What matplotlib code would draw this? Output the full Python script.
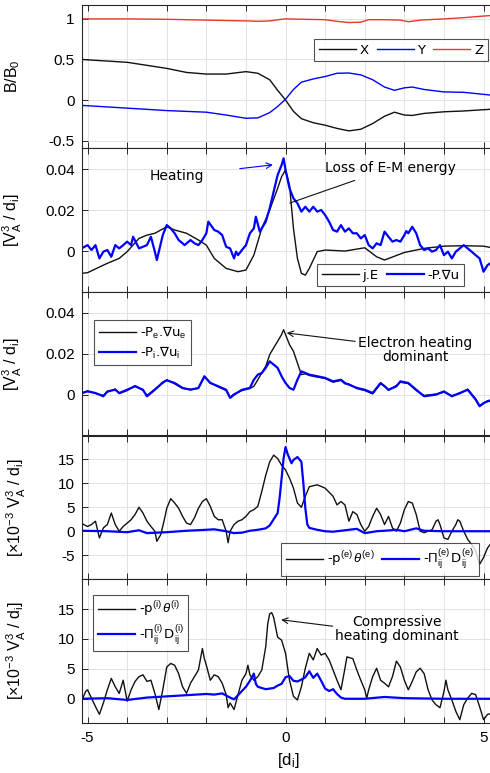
import matplotlib
matplotlib.use("Agg")
import matplotlib.pyplot as plt
from matplotlib.ticker import FixedLocator, FuncFormatter
import numpy as np

plt.rcParams["font.family"] = ["Liberation Sans", "DejaVu Sans"]
plt.rcParams["mathtext.fontset"] = "custom"
plt.rcParams["mathtext.rm"] = "Liberation Sans"
plt.rcParams["mathtext.it"] = "Liberation Sans:italic"
plt.rcParams["mathtext.bf"] = "Liberation Sans:bold"
plt.rcParams["axes.unicode_minus"] = False

# ---------------- panel 1: magnetic field components ----------------
x_b = [-5.15, -4, -3, -2.5, -2, -1.5, -1, -0.7, -0.4, -0.2, 0, 0.2, 0.4, 0.7, 1.0,
       1.3, 1.6, 1.9, 2.2, 2.5, 2.75, 3.0, 3.2, 3.5, 4, 4.5, 5.3]
bx = [0.50, 0.465, 0.39, 0.34, 0.32, 0.32, 0.35, 0.33, 0.25, 0.12, 0.0, -0.14, -0.23,
      -0.28, -0.31, -0.35, -0.38, -0.36, -0.29, -0.20, -0.15, -0.185, -0.19, -0.165,
      -0.145, -0.135, -0.11]
by = [-0.066, -0.10, -0.13, -0.14, -0.15, -0.185, -0.225, -0.22, -0.155, -0.08, 0.01,
      0.13, 0.22, 0.26, 0.29, 0.33, 0.333, 0.31, 0.25, 0.16, 0.12, 0.15, 0.16, 0.13,
      0.10, 0.095, 0.055]
x_bz = [-5.15, -4, -3, -2, -1, -0.7, -0.4, -0.1, 0, 0.5, 1.0, 1.3, 1.6, 1.9, 2.1, 2.5,
        2.9, 3.1, 3.4, 4, 4.5, 5, 5.3]
bz = [1.0, 1.0, 0.995, 0.985, 0.975, 0.97, 0.975, 0.995, 1.0, 0.995, 0.99, 0.97, 0.955,
      0.96, 0.99, 0.99, 0.985, 0.965, 0.985, 1.0, 1.015, 1.035, 1.045]

# ---------------- panel 2: j.E and -P.grad u  (units of 1e-3) ----------------
x_je = [-5.15, -5, -4.5, -4.2, -4, -3.7, -3.5, -3.3, -3, -2.8, -2.5, -2.2, -2.0, -1.8,
        -1.5, -1.2, -1.0, -0.8, -0.6, -0.4, -0.2, -0.1, 0, 0.1, 0.2, 0.3, 0.4, 0.5,
        0.6, 0.8, 1.0, 1.5, 2, 2.3, 2.5, 3, 3.5, 4, 4.5, 5, 5.3]
je = [-10.9, -10.6, -6.0, -3.6, -0.3, 6.2, 7.8, 8.7, 11.9, 10.3, 8.7, 5.4, 2.9, -3.6,
      -8.5, -10.1, -9.3, -2.0, 11.1, 20.1, 30.7, 36.4, 39.7, 32.3, 11.1, -3.6, -10.9,
      -11.8, -8.5, -0.3, 0.5, 0.0, 1.6, -2.8, -4.4, -0.7, 1.3, 2.4, 2.6, 2.4, 1.3]
x_pu = [-5.15, -5.0, -4.9, -4.8, -4.7, -4.6, -4.5, -4.4, -4.3, -4.2, -4.1, -4.0, -3.9,
        -3.85, -3.7, -3.6, -3.5, -3.4, -3.3, -3.25, -3.1, -3.0, -2.9, -2.8, -2.7, -2.6,
        -2.55, -2.4, -2.3, -2.2, -2.1, -2.0, -1.95, -1.8, -1.7, -1.6, -1.5, -1.4, -1.3,
        -1.25, -1.2, -1.1, -1.0, -0.9, -0.8, -0.75, -0.65, -0.6, -0.5, -0.4, -0.3, -0.2,
        -0.1, -0.05, 0, 0.1, 0.2, 0.3, 0.4, 0.5, 0.6, 0.7, 0.8, 0.9, 1.0, 1.1, 1.2, 1.3,
        1.4, 1.5, 1.6, 1.7, 1.8, 1.9, 2.0, 2.1, 2.2, 2.3, 2.4, 2.5, 2.6, 2.7, 2.8, 2.9,
        3.0, 3.05, 3.1, 3.2, 3.3, 3.4, 3.5, 3.6, 3.7, 3.8, 3.9, 4.0, 4.1, 4.2, 4.3, 4.4,
        4.5, 4.6, 4.7, 4.8, 4.9, 5.0, 5.1, 5.3]
pu = [1.3, 2.9, 0.5, 2.9, -3.6, -0.3, 0.5, -2.8, 2.9, 1.3, 2.9, 4.6, 2.9, 7.0, 1.3, 2.1,
      2.9, 7.0, -0.3, -4.4, 7.8, 12.7, 11.1, 8.7, 5.4, 3.8, 2.9, 5.4, 3.8, 2.9, 5.4, 8.7,
      14.4, 10.3, 9.5, 7.8, 2.1, 1.3, -3.6, -0.3, -2.0, 0.5, 2.9, 8.7, 11.1, 16.8, 9.5,
      11.1, 14.4, 20.9, 29.1, 37.2, 42.1, 45.4, 39.7, 30.7, 25.8, 23.4, 19.3, 21.7, 19.3,
      21.7, 19.3, 20.1, 17.6, 14.4, 10.3, 9.5, 12.7, 9.5, 11.1, 8.7, 8.7, 6.2, 7.8, 2.9,
      1.3, 3.8, 2.9, 9.5, 7.0, 4.6, 5.4, 4.6, 7.8, 9.8, 8.7, 11.9, 8.7, 2.9, 0.5, 1.3,
      -0.3, 0.5, 2.9, -2.0, -0.3, -3.6, -0.3, 1.3, 2.9, 1.3, -0.3, -2.0, -3.6, -10.1,
      -6.9, -4.4]

# ---------------- panel 3: electron / ion pressure work (units of 1e-3) ----------------
x_pw = [-5.15, -5.0, -4.8, -4.6, -4.5, -4.3, -4.2, -4.0, -3.8, -3.6, -3.5, -3.3, -3.1,
        -3.0, -2.8, -2.6, -2.4, -2.2, -2.05, -1.9, -1.7, -1.5, -1.4, -1.3, -1.1, -0.9,
        -0.8, -0.7, -0.6, -0.5, -0.4, -0.3, -0.2, -0.1, -0.05, 0, 0.1, 0.2, 0.3, 0.4,
        0.5, 0.6, 0.8, 1.0, 1.2, 1.4, 1.5, 1.6, 1.8, 2.0, 2.2, 2.4, 2.5, 2.6, 2.8, 2.9,
        3.1, 3.3, 3.5, 3.8, 4.0, 4.2, 4.4, 4.6, 4.8, 4.9, 5.0, 5.1, 5.3]
pe_work = [0.4, 1.9, 0.6, -0.4, 1.2, 2.8, 0.5, 2.0, 4.4, 2.1, -0.4, 2.7, 5.6, 7.3, 5.3,
           3.0, 2.6, 3.0, 8.6, 5.9, 3.8, 2.0, -1.2, 0.3, 2.0, 3.0, 4.1, 7.3, 10.6, 13.9,
           19.6, 22.9, 26.1, 29.4, 31.8, 29.4, 24.5, 21.2, 15.5, 9.8, 10.2, 9.4, 8.6,
           7.9, 6.1, 7.0, 5.3, 5.2, 3.0, 2.0, 0.4, 5.3, 4.4, 2.1, 4.5, 6.1, 5.4, 2.0,
           -0.4, 0.3, 1.2, -0.5, 0.5, 2.7, -2.0, -5.3, -4.4, -3.0, -2.0]
pi_work = [0.8, 1.6, 0.8, -0.8, 1.6, 2.4, 0.8, 2.4, 4.1, 2.4, -0.8, 2.4, 6.0, 7.0, 5.7,
           3.3, 2.4, 3.3, 9.0, 5.7, 4.1, 2.4, -1.6, 0.0, 2.4, 3.3, 7.3, 9.8, 10.6, 13.1,
           16.3, 14.7, 13.1, 9.0, 7.3, 5.7, 3.3, 2.4, 7.3, 11.4, 10.6, 9.8, 9.0, 8.2,
           6.5, 7.3, 5.7, 4.9, 3.3, 2.4, 0.8, 5.7, 4.1, 2.4, 4.1, 6.5, 5.7, 2.4, -0.8,
           0.0, 1.6, -0.8, 0.8, 2.4, -2.4, -5.7, -4.1, -3.3, -2.4]

# ---------------- panel 4: electron pressure-strain terms (units of 1e-3) ----------------
x_e = [-5.15, -5.1, -5.0, -4.9, -4.8, -4.7, -4.6, -4.5, -4.4, -4.3, -4.2, -4.1, -4.0,
       -3.9, -3.8, -3.7, -3.6, -3.5, -3.4, -3.3, -3.25, -3.15, -3.05, -3.0, -2.9, -2.8,
       -2.7, -2.6, -2.5, -2.4, -2.3, -2.2, -2.1, -2.0, -1.9, -1.8, -1.7, -1.6, -1.5,
       -1.45, -1.4, -1.3, -1.2, -1.1, -1.0, -0.9, -0.8, -0.7, -0.6, -0.5, -0.4, -0.3,
       -0.2, -0.1, 0, 0.1, 0.2, 0.3, 0.4, 0.5, 0.6, 0.8, 1.0, 1.2, 1.3, 1.4, 1.5, 1.6,
       1.7, 1.8, 1.9, 2.0, 2.1, 2.2, 2.3, 2.4, 2.5, 2.6, 2.7, 2.8, 2.9, 3.0, 3.1, 3.2,
       3.3, 3.4, 3.5, 3.6, 3.7, 3.8, 3.85, 3.9, 4.0, 4.1, 4.2, 4.3, 4.35, 4.4, 4.5, 4.6,
       4.7, 4.8, 4.9, 5.0, 5.1, 5.3]
ptheta_e = [1.7, 1.4, 1.0, 1.4, 2.1, -1.4, 0.7, 1.4, 3.8, 1.4, 0.0, 1.0, 1.7, 2.4, 3.5,
            5.0, 3.8, 2.1, 1.0, 0.0, -2.1, -0.7, 2.8, 4.8, 6.8, 5.9, 4.8, 3.1, 1.7, 1.4,
            2.8, 4.8, 6.2, 6.8, 5.2, 3.1, 2.4, 2.4, 0.0, -2.4, 0.0, 1.4, 2.1, 2.4, 3.1,
            4.1, 4.5, 5.2, 8.3, 11.7, 14.5, 15.9, 15.2, 13.8, 12.8, 11.1, 9.0, 5.9, 5.0,
            7.3, 9.3, 9.7, 9.0, 7.3, 5.5, 6.2, 5.5, 2.1, 4.1, 3.5, 1.4, 0.0, 1.0, 3.1,
            4.8, 3.5, 1.4, 3.1, 0.7, 0.0, 1.7, 4.5, 6.2, 5.9, 3.5, 0.0, -0.3, 0.0, 0.3,
            2.1, 2.4, 1.4, -1.4, -1.7, 0.0, 1.4, 2.4, 2.1, 0.0, -1.7, -2.8, -4.1, -6.9,
            -5.5, -3.5, -1.4]
x_pie = [-5.15, -4.5, -4.0, -3.7, -3.5, -3.0, -2.5, -2.0, -1.8, -1.5, -1.3, -1.1, -0.9,
         -0.7, -0.5, -0.4, -0.3, -0.2, -0.15, -0.1, -0.05, 0, 0.05, 0.1, 0.15, 0.2, 0.3,
         0.4, 0.45, 0.5, 0.55, 0.6, 0.8, 1.0, 1.2, 1.5, 1.8, 2.0, 2.3, 2.5, 2.8, 3.0,
         3.3, 3.5, 4.0, 4.5, 5.3]
pid_e = [0.1, 0.0, -0.2, 0.2, -0.4, -0.2, 0.1, 0.3, 0.4, 0.0, -0.4, -0.3, 0.1, 0.3, 0.6,
         1.2, 2.5, 3.8, 6.9, 11.0, 15.2, 17.6, 16.2, 15.2, 14.2, 14.9, 15.5, 14.5, 10.0,
         4.8, 1.4, 0.7, 0.3, 0.0, -0.1, 0.2, 0.5, -0.4, 0.0, 0.1, 0.3, 0.0, 0.6, 0.1,
         0.0, 0.0, 0.0]

# ---------------- panel 5: ion pressure-strain terms (units of 1e-3) ----------------
x_i = [-5.15, -5.05, -5.0, -4.9, -4.8, -4.7, -4.6, -4.5, -4.4, -4.3, -4.2, -4.1, -4.0,
       -3.9, -3.8, -3.7, -3.6, -3.5, -3.4, -3.3, -3.2, -3.1, -3.0, -2.9, -2.8, -2.7,
       -2.6, -2.5, -2.4, -2.3, -2.2, -2.1, -2.05, -2.0, -1.9, -1.8, -1.7, -1.6, -1.5,
       -1.45, -1.4, -1.3, -1.2, -1.1, -1.0, -0.95, -0.9, -0.8, -0.7, -0.6, -0.5, -0.45,
       -0.4, -0.35, -0.3, -0.2, -0.1, 0, 0.05, 0.1, 0.2, 0.3, 0.4, 0.5, 0.6, 0.7, 0.8,
       0.9, 1.0, 1.1, 1.2, 1.3, 1.4, 1.5, 1.55, 1.7, 1.8, 1.9, 2.0, 2.05, 2.1, 2.2, 2.3,
       2.4, 2.5, 2.6, 2.7, 2.8, 2.9, 3.0, 3.1, 3.2, 3.3, 3.4, 3.5, 3.6, 3.7, 3.8, 3.9,
       4.0, 4.05, 4.1, 4.2, 4.3, 4.4, 4.5, 4.6, 4.7, 4.8, 4.9, 5.0, 5.1, 5.3]
ptheta_i = [-0.4, 1.2, 1.5, 0.1, -1.3, -2.6, -0.7, 1.5, 3.4, 2.0, 0.9, 3.1, -0.4, 1.5,
            2.9, 3.7, 4.0, 2.9, 3.1, 0.9, -1.8, 1.5, 5.3, 5.9, 5.6, 4.2, 2.0, 0.9, 2.6,
            3.7, 4.8, 8.4, 6.7, 5.6, 3.1, 4.0, 3.7, 2.6, 0.7, -1.5, -0.7, -1.8, 0.7, 3.1,
            4.2, 5.6, 4.0, 3.1, 3.7, 4.8, 8.7, 12.5, 14.2, 14.4, 13.6, 10.3, 9.8, 7.6,
            5.3, 3.1, 0.4, -0.2, 2.0, 5.1, 7.6, 6.5, 8.4, 7.3, 7.6, 6.5, 4.8, 3.1, 1.5,
            5.1, 7.0, 6.7, 4.8, 3.1, 1.5, 0.1, 1.5, 3.7, 5.1, 3.1, 2.6, 2.0, 3.7, 6.3,
            5.3, 3.1, 1.5, 2.9, 4.5, 5.1, 4.2, 1.5, -0.2, -1.0, -1.5, 1.2, 3.1, 1.5,
            -0.2, -2.1, -3.5, -1.0, 0.1, 0.9, 0.7, -1.3, -3.5, -2.6, -2.4]
x_pii = [-5.15, -4.5, -4.0, -3.5, -3.0, -2.5, -2.0, -1.8, -1.6, -1.4, -1.3, -1.2, -1.0,
         -0.9, -0.8, -0.75, -0.7, -0.5, -0.3, -0.2, -0.1, 0, 0.1, 0.2, 0.3, 0.4, 0.5,
         0.6, 0.7, 0.8, 0.9, 1.0, 1.1, 1.2, 1.3, 1.4, 1.5, 2.0, 2.5, 3.0, 4.0, 5.3]
pid_i = [0.0, 0.1, -0.2, 0.2, 0.4, 0.6, 0.8, 0.7, 0.9, 0.2, -0.1, 0.6, 2.0, 3.0, 4.2,
         2.5, 2.0, 1.6, 1.8, 2.2, 2.5, 3.6, 3.8, 3.0, 2.9, 3.2, 3.6, 4.6, 3.5, 4.2, 3.0,
         1.7, 1.3, 1.6, 0.8, 0.2, 0.0, 0.0, 0.3, 0.1, 0.0, 0.0]

BLUE = "#0000ff"
BLACK = "#111111"
RED = "#e5392c"
EDGE = "#262626"

W, H = 490, 773
fig = plt.figure(figsize=(W / 100, H / 100), dpi=100)

top0, ph = 4.7, 143.6
left_px = 81.6
xlim = (-5.15, 5.3)
width_px = (xlim[1] - xlim[0]) * 39.6
axes = []
for k in range(5):
    bottom = 1 - (top0 + ph * (k + 1)) / H
    ax = fig.add_axes([left_px / W, bottom, width_px / W, ph / H])
    axes.append(ax)

def style(ax, yticks, ylim, last=False):
    ax.set_xlim(*xlim)
    ax.set_ylim(*ylim)
    ax.xaxis.set_major_locator(FixedLocator(np.arange(-5, 6, 1)))
    ax.xaxis.set_major_formatter(FuncFormatter(
        lambda v, p: f"{v:g}" if abs(v) in (0, 5) else ""))
    ax.yaxis.set_major_locator(FixedLocator(yticks))
    ax.yaxis.set_major_formatter(FuncFormatter(lambda v, p: f"{v:g}"))
    ax.tick_params(axis="x", direction="in", top=True, bottom=True, length=4,
                   width=0.7, color=EDGE, labelbottom=last, labelsize=11, pad=6)
    ax.tick_params(axis="y", direction="in", left=True, right=False, length=4,
                   width=0.7, color=EDGE, labelsize=11, pad=5)
    ax.grid(True, color="#e3e3e3", linewidth=0.7)
    ax.set_axisbelow(True)
    for s in ax.spines.values():
        s.set_color(EDGE)
        s.set_linewidth(0.8)

def legend(ax, anchor, ncol=1):
    lg = ax.legend(loc="upper left", bbox_to_anchor=anchor, ncol=ncol,
                   frameon=True, fancybox=False, borderaxespad=0,
                   handlelength=2.8, handletextpad=0.3, columnspacing=0.6,
                   borderpad=0.35, labelspacing=0.3,
                   prop={"family": ["DejaVu Sans"], "size": 9.5})
    lg.get_frame().set_edgecolor(EDGE)
    lg.get_frame().set_linewidth(0.8)
    return lg

YLAB_X = -0.138
YLAB_SIZE = 11.5

# panel 1
ax = axes[0]
ax.plot(x_b, bx, color=BLACK, lw=1.0, label="X")
ax.plot(x_b, by, color=BLUE, lw=1.0, label="Y")
ax.plot(x_bz, bz, color=RED, lw=1.0, label="Z")
style(ax, [-0.5, 0, 0.5, 1], (-0.595, 1.175))
legend(ax, (0.5616, 0.761), ncol=3)
ax.set_ylabel(r"B/B$_\mathrm{0}$", fontsize=YLAB_SIZE)
ax.yaxis.set_label_coords(-0.145, 0.5)

ann_font = {"family": ["DejaVu Sans"], "size": 10}

# panel 2
ax = axes[1]
ax.plot(x_je, np.array(je) / 1000, color=BLACK, lw=1.0, label="j.E")
ax.plot(x_pu, np.array(pu) / 1000, color=BLUE, lw=1.6, label="-P.∇u")
style(ax, [0, 0.02, 0.04], (-0.02, 0.0503))
legend(ax, (0.569, 0.194), ncol=2)
ax.set_ylabel(r"[V$_\mathrm{A}^\mathrm{3}$ / d$_\mathrm{i}$]", fontsize=YLAB_SIZE)
ax.yaxis.set_label_coords(YLAB_X, 0.5)
ax.annotate("Heating", xy=(-0.32, 0.0422), xytext=(-2.75, 0.0368),
            ha="center", va="center", **ann_font,
            arrowprops=dict(arrowstyle="->", color=BLUE, lw=0.8,
                            shrinkA=24, shrinkB=0))
ax.annotate("Loss of E-M energy", xy=(0.11, 0.0235), xytext=(1.0, 0.0407),
            ha="left", va="center", **ann_font,
            arrowprops=dict(arrowstyle="-", color=BLACK, lw=0.8,
                            shrinkA=6, shrinkB=0))

# panel 3
ax = axes[2]
ax.plot(x_pw, np.array(pe_work) / 1000, color=BLACK, lw=1.0,
        label=r"-P$_\mathrm{e}$.∇u$_\mathrm{e}$")
ax.plot(x_pw, np.array(pi_work) / 1000, color=BLUE, lw=1.6,
        label=r"-P$_\mathrm{i}$.∇u$_\mathrm{i}$")
style(ax, [0, 0.02, 0.04], (-0.02, 0.0503))
legend(ax, (0.030, 0.804))
ax.set_ylabel(r"[V$_\mathrm{A}^\mathrm{3}$ / d$_\mathrm{i}$]", fontsize=YLAB_SIZE)
ax.yaxis.set_label_coords(YLAB_X, 0.5)
ax.annotate("Electron heating\ndominant", xy=(0.03, 0.0302), xytext=(3.27, 0.0218),
            ha="center", va="center", linespacing=1.0, **ann_font,
            arrowprops=dict(arrowstyle="->", color=BLACK, lw=0.8,
                            shrinkA=0, shrinkB=0, relpos=(0.0, 0.8)))

# panel 4
ax = axes[3]
ax.plot(x_e, ptheta_e, color=BLACK, lw=1.0,
        label=r"-p$^\mathrm{(e)}\,\theta^\mathrm{(e)}$")
ax.plot(x_pie, pid_e, color=BLUE, lw=1.6,
        label=r"-$\Pi_\mathrm{ij}^\mathrm{(e)}\,$D$_\mathrm{ij}^\mathrm{(e)}$")
style(ax, [-5, 0, 5, 10, 15], (-10, 20))
legend(ax, (0.482, 0.251), ncol=2)
ax.set_ylabel(r"[$\times$10$^\mathrm{-3}$ V$_\mathrm{A}^\mathrm{3}$ / d$_\mathrm{i}$]",
              fontsize=YLAB_SIZE)
ax.yaxis.set_label_coords(-0.13, 0.5)

# panel 5
ax = axes[4]
ax.plot(x_i, ptheta_i, color=BLACK, lw=1.0,
        label=r"-p$^\mathrm{(i)}\,\theta^\mathrm{(i)}$")
ax.plot(x_pii, pid_i, color=BLUE, lw=1.6,
        label=r"-$\Pi_\mathrm{ij}^\mathrm{(i)}\,$D$_\mathrm{ij}^\mathrm{(i)}$")
style(ax, [0, 5, 10, 15], (-4, 20), last=True)
legend(ax, (0.028, 0.889))
ax.set_ylabel(r"[$\times$10$^\mathrm{-3}$ V$_\mathrm{A}^\mathrm{3}$ / d$_\mathrm{i}$]",
              fontsize=YLAB_SIZE)
ax.yaxis.set_label_coords(-0.13, 0.5)
ax.set_xlabel(r"[d$_\mathrm{i}$]", fontsize=12, labelpad=4)
ax.annotate("Compressive\nheating dominant", xy=(-0.11, 13.2), xytext=(2.82, 11.6),
            ha="center", va="center", linespacing=1.0, **ann_font,
            arrowprops=dict(arrowstyle="->", color=BLACK, lw=0.8,
                            shrinkA=0, shrinkB=0, relpos=(0.0, 0.6)))

fig.savefig("out.png", dpi=100)
